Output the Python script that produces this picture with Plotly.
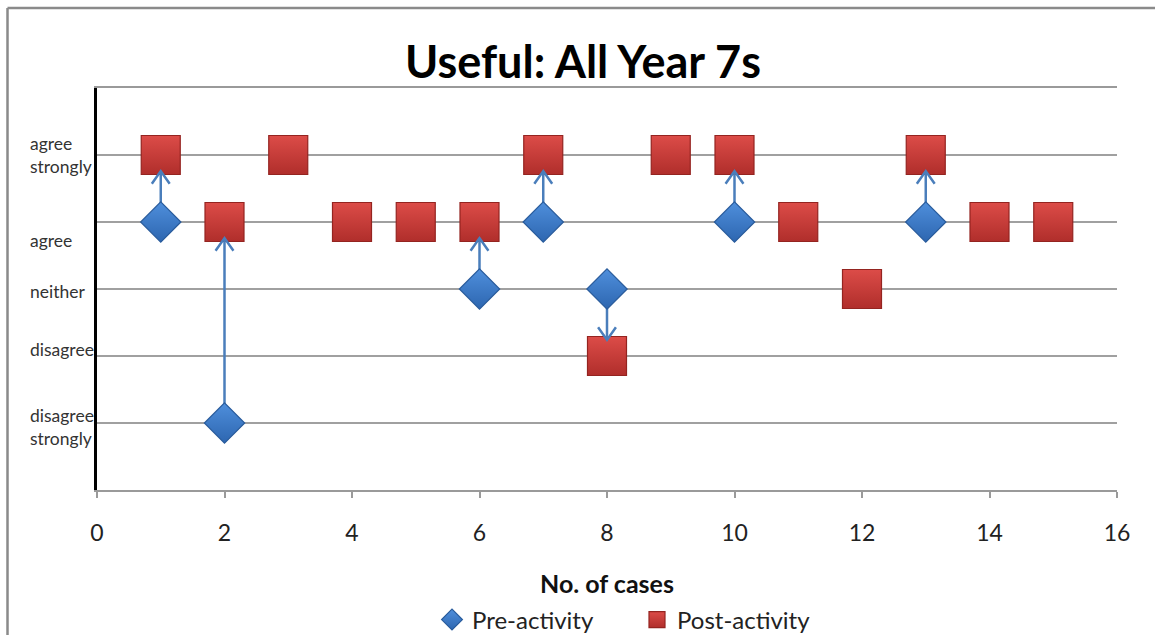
import plotly.graph_objects as go

# ---- data ----
pre_x = [1, 2, 6, 7, 8, 10, 13]
pre_y = [4, 1, 3, 4, 3, 4, 4]
post_x = [1, 2, 3, 4, 5, 6, 7, 8, 9, 10, 11, 12, 13, 14, 15]
post_y = [5, 4, 5, 4, 4, 4, 5, 2, 5, 5, 4, 3, 5, 4, 4]
level_labels = ["disagree<br>strongly", "disagree", "neither", "agree", "agree<br>strongly"]
level_label_pos = [0.94, 2.09, 2.96, 3.73, 5.0]  # where the text sits beside the axis

FONT = "Lato, 'Open Sans', sans-serif"
ARROW = "#4a7ebb"

W, H = 1155, 635
PL, PR, PT, PB = 97, 1117, 88, 490  # plot area in page pixels


def px_to_paper_x(px):
    return (px - PL) / (PR - PL)


def px_to_paper_y(py):
    return (PB - py) / (PB - PT)


# arrows from pre to post value for each case
post_lookup = dict(zip(post_x, post_y))
TIP_OFF, ARM_DX, ARM_DY = 0.24, 0.14, 0.19
ax, ay = [], []
for x, y0 in zip(pre_x, pre_y):
    y1 = post_lookup[x]
    d = 1 if y1 > y0 else -1
    tip = y1 - d * TIP_OFF
    ax += [x, x, None, x - ARM_DX, x, x + ARM_DX, None]
    ay += [y0, tip, None, tip - d * ARM_DY, tip, tip - d * ARM_DY, None]

fig = go.Figure()
fig.add_trace(go.Scatter(
    x=post_x, y=post_y, mode="markers", name="Post-activity",
    marker=dict(symbol="square", size=39, color="#dc4c48",
                gradient=dict(type="vertical", color="#b02e2b"),
                line=dict(color="#942420", width=1.2)),
    legendrank=2,
))
fig.add_trace(go.Scatter(
    x=ax, y=ay, mode="lines", showlegend=False, hoverinfo="skip",
    line=dict(color=ARROW, width=2.5),
))
fig.add_trace(go.Scatter(
    x=pre_x, y=pre_y, mode="markers", name="Pre-activity",
    marker=dict(symbol="diamond", size=31, color="#4f8fdc",
                gradient=dict(type="vertical", color="#2d66b0"),
                line=dict(color="#2a5c9c", width=1.2)),
    legendrank=1,
))

annotations = []
for lab, yp in zip(level_labels, level_label_pos):
    annotations.append(dict(
        x=px_to_paper_x(28), xref="paper", y=yp, yref="y", text=lab, showarrow=False,
        xanchor="left", yanchor="middle", align="left",
        font=dict(family=FONT, size=17.5, color="#333333"),
    ))
annotations.append(dict(
    x=0.5, xref="paper", y=px_to_paper_y(583), yref="paper", text="<b>No. of cases</b>",
    showarrow=False, xanchor="center", yanchor="middle",
    font=dict(family=FONT, size=25, color="#111111"),
))

fig.update_layout(
    width=W, height=H,
    margin=dict(l=PL, r=W - PR, t=PT, b=H - PB, autoexpand=False),
    paper_bgcolor="white", plot_bgcolor="white",
    title=dict(text="<b>Useful: All Year 7s</b>", x=583 / W, xanchor="center",
               y=1 - 62 / H, yanchor="middle",
               font=dict(family=FONT, size=45, color="#000000")),
    xaxis=dict(range=[0, 16], dtick=2, showgrid=False, zeroline=False,
               showline=True, mirror=True, linecolor="#9a9a9a", linewidth=1.5,
               ticks="outside", ticklen=6, tickcolor="#9a9a9a", tickwidth=1.5,
               ticklabelstandoff=16,
               tickfont=dict(family=FONT, size=23, color="#222222")),
    yaxis=dict(range=[0, 6], dtick=1, showgrid=True, gridcolor="#a0a0a0",
               gridwidth=1.5, zeroline=False, showticklabels=False,
               showline=True, linecolor="#000000", linewidth=2.5),
    showlegend=True,
    legend=dict(orientation="h", x=px_to_paper_x(637), xanchor="center",
                y=px_to_paper_y(620), yanchor="middle",
                entrywidth=160, entrywidthmode="pixels",
                font=dict(family=FONT, size=24, color="#222222"),
                bgcolor="rgba(0,0,0,0)"),
    annotations=annotations,
    shapes=[
        dict(type="line", xref="paper", yref="paper",
             x0=px_to_paper_x(7.5), x1=px_to_paper_x(1170),
             y0=px_to_paper_y(8), y1=px_to_paper_y(8),
             line=dict(color="#8a8a8a", width=2.5), layer="below"),
        dict(type="line", xref="paper", yref="paper",
             x0=px_to_paper_x(7.5), x1=px_to_paper_x(7.5),
             y0=px_to_paper_y(8), y1=px_to_paper_y(660),
             line=dict(color="#8a8a8a", width=2.5), layer="below"),
    ],
)

fig.write_html(
    "out.html",
    config={"displayModeBar": False},
    post_script="document.body.style.margin='0';document.body.style.overflow='hidden';",
)
